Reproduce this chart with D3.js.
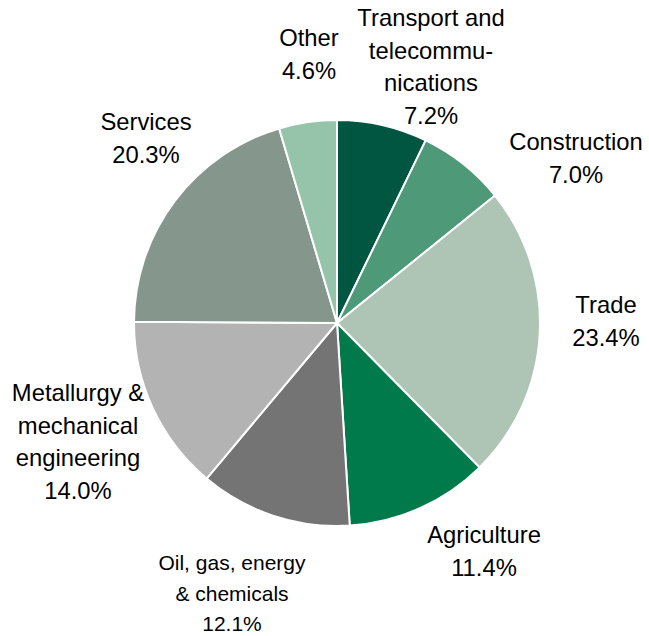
<!DOCTYPE html>
<html>
<head>
<meta charset="utf-8">
<script src="https://cdn.jsdelivr.net/npm/d3@7"></script>
<style>
  html, body { margin: 0; padding: 0; background: #fff; }
  text { font-family: "Liberation Sans", Arial, sans-serif; fill: #000; }
</style>
</head>
<body>
<svg id="chart" width="649" height="636"></svg>
<script>
// Sector shares, clockwise from 12 o'clock
const sectors = ["Transport and telecommunications", "Construction", "Trade", "Agriculture",
  "Oil, gas, energy & chemicals", "Metallurgy & mechanical engineering", "Services", "Other"];
const shares = [7.2, 7.0, 23.4, 11.4, 12.1, 14.0, 20.3, 4.6];
const labelLines = [
  ["Transport and", "telecommu-", "nications"],
  ["Construction"],
  ["Trade"],
  ["Agriculture"],
  ["Oil, gas, energy", "& chemicals"],
  ["Metallurgy &", "mechanical", "engineering"],
  ["Services"],
  ["Other"]
];
const colors = ["#005640", "#4e9a78", "#aec5b6", "#007a4b", "#737473", "#b2b3b2", "#85978d", "#96c4ab"];

// Label block placement: centre x, first baseline y, font size, line step
const labelLayout = [
  { x: 431, y: 26, size: 23.8, step: 32.5 },
  { x: 576, y: 150, size: 23.8, step: 32.5 },
  { x: 606, y: 313, size: 23.8, step: 32.5 },
  { x: 484, y: 543, size: 23.8, step: 32.5 },
  { x: 232, y: 570, size: 21, step: 30.5 },
  { x: 78, y: 401, size: 23.8, step: 32.5 },
  { x: 146, y: 130, size: 23.8, step: 32.5 },
  { x: 309, y: 46, size: 23.8, step: 32.5 }
];

const svg = d3.select("#chart");
const cx = 337, cy = 323, radius = 203;

const pie = d3.pie().sort(null).value(d => d)(shares);
const arc = d3.arc().innerRadius(0).outerRadius(radius);

const g = svg.append("g").attr("transform", `translate(${cx},${cy})`);
g.selectAll("path")
  .data(pie)
  .join("path")
  .attr("d", arc)
  .attr("fill", (d, i) => colors[i])
  .attr("stroke", "#fff")
  .attr("stroke-width", 2)
  .attr("stroke-linejoin", "round");

const fmt = d3.format(".1f");
const labels = svg.selectAll("text.label")
  .data(pie)
  .join("text")
  .attr("class", "label")
  .attr("text-anchor", "middle")
  .attr("font-size", (d, i) => labelLayout[i].size);

labels.each(function (d, i) {
  const L = labelLayout[i];
  const lines = labelLines[i].concat([fmt(d.data) + "%"]);
  d3.select(this).selectAll("tspan")
    .data(lines)
    .join("tspan")
    .attr("x", L.x)
    .attr("y", (s, k) => L.y + k * L.step)
    .text(s => s);
});
</script>
</body>
</html>
